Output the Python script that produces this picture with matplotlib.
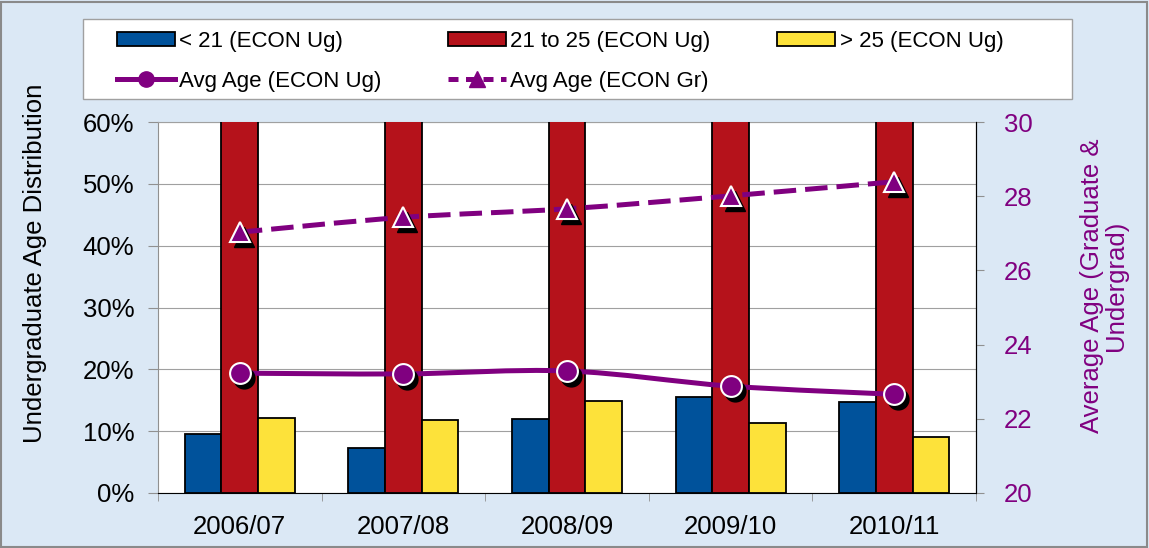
import matplotlib
matplotlib.use("Agg")
from matplotlib import pyplot as plt
from matplotlib.path import Path
from matplotlib.patches import PathPatch, Rectangle, Patch
from matplotlib.lines import Line2D
from matplotlib import transforms
import numpy as np

years = ["2006/07", "2007/08", "2008/09", "2009/10", "2010/11"]
under_21 = [9.5, 7.2, 12.0, 15.6, 14.7]
age_21_25 = [75.0, 77.0, 73.0, 73.0, 76.0]   # clipped above 60% in the chart
over_25 = [12.2, 11.8, 14.9, 11.3, 9.1]
avg_ug = [23.23, 23.21, 23.29, 22.88, 22.66]
avg_gr = [27.03, 27.43, 27.66, 28.01, 28.39]

purple = "#800080"
blue = "#00529B"
red = "#B5121B"
yellow = "#FDE23A"
bg = "#dbe8f5"

plt.rcParams["font.family"] = ["Liberation Sans", "DejaVu Sans"]


def smooth_path(xs, ys):
    # catmull-rom -> bezier, like Excel's smoothed line
    n = len(xs)
    verts = [(xs[0], ys[0])]
    codes = [Path.MOVETO]
    for i in range(n - 1):
        x0, y0 = xs[max(i - 1, 0)], ys[max(i - 1, 0)]
        x1, y1 = xs[i], ys[i]
        x2, y2 = xs[i + 1], ys[i + 1]
        x3, y3 = xs[min(i + 2, n - 1)], ys[min(i + 2, n - 1)]
        verts.append((x1 + (x2 - x0) / 6, y1 + (y2 - y0) / 6))
        verts.append((x2 - (x3 - x1) / 6, y2 - (y3 - y1) / 6))
        verts.append((x2, y2))
        codes += [Path.CURVE4] * 3
    return Path(verts, codes)


fig = plt.figure(figsize=(11.49, 5.48), dpi=100, facecolor=bg)
fig.patches.append(Rectangle((0.001, 0.002), 0.997, 0.994, transform=fig.transFigure,
                             fill=False, edgecolor="#8a8a8a", lw=1.5))
# legend box
fig.patches.append(Rectangle((83 / 1149, 1 - 99 / 548), (1072 - 83) / 1149, 80 / 548,
                             transform=fig.transFigure, facecolor="white",
                             edgecolor="#a0a0a0", lw=1.0))

ax = fig.add_axes([158 / 1149, 1 - 493 / 548, (976 - 158) / 1149, (493 - 122) / 548])
ax.set_facecolor("white")

x = np.arange(len(years))
w = 0.224
ax.bar(x - w, under_21, w, color=blue, edgecolor="black", lw=1.3, zorder=3)
ax.bar(x, age_21_25, w, color=red, edgecolor="black", lw=1.3, zorder=3)
ax.bar(x + w, over_25, w, color=yellow, edgecolor="black", lw=1.3, zorder=3)

ax.set_xlim(-0.5, len(years) - 0.5)
ax.set_ylim(0, 60)
ax.set_yticks(range(0, 61, 10))
ax.set_yticklabels([f"{v}%" for v in range(0, 61, 10)])
ax.yaxis.grid(True, color="#a0a0a0", lw=0.8, zorder=0)
ax.set_axisbelow(True)
ax.set_xticks(x)
ax.set_xticklabels(years)
ax.set_xticks(np.arange(-0.5, len(years), 1.0), minor=True)
ax.tick_params(axis="x", which="major", length=0, pad=16, labelsize=18.5)
ax.tick_params(axis="x", which="minor", length=6, color="#909090", direction="out")
ax.tick_params(axis="y", length=7, color="#909090", pad=10, labelsize=18.5)
ax.spines["left"].set_color("#909090")
ax.spines["top"].set_color("#a0a0a0")
ax.spines["bottom"].set_color("black")
ax.spines["right"].set_color("black")

ax2 = ax.twinx()
ax2.set_ylim(20, 30)
ax2.set_yticks(range(20, 31, 2))
ax2.tick_params(axis="y", length=6, colors=purple, pad=14, labelsize=18.5)
ax2.tick_params(axis="y", color="#909090")
ax2.spines["right"].set_color("black")
for s in ("left", "top", "bottom"):
    ax2.spines[s].set_visible(False)

ax2.add_patch(PathPatch(smooth_path(x, avg_ug), fill=False, edgecolor=purple, lw=3.6,
                        capstyle="butt", zorder=4))
ax2.add_patch(PathPatch(smooth_path(x, avg_gr), fill=False, edgecolor=purple, lw=3.6,
                        linestyle=(0, (4.5, 1.8)), capstyle="butt", zorder=4))

shadow = transforms.offset_copy(ax2.transData, fig=fig, x=4, y=-5, units="dots")
ax2.plot(x, avg_ug, "o", ms=15, color="black", mec="black", transform=shadow, zorder=5)
ax2.plot(x, avg_gr, "^", ms=15, color="black", mec="black", transform=shadow, zorder=5)
ax2.plot(x, avg_ug, "o", ms=15, color=purple, mec="white", mew=1.5, zorder=6)
ax2.plot(x, avg_gr, "^", ms=15, color=purple, mec="white", mew=1.5, zorder=6)

fig.text(35 / 1149, 1 - 263 / 548, "Undergraduate Age Distribution", rotation=90,
         ha="center", va="center", fontsize=18.5)
fig.text(1104 / 1149, 1 - 286 / 548, "Average Age (Graduate &\nUndergrad)", rotation=90,
         ha="center", va="center", fontsize=18.5, color=purple, linespacing=1.0)

handles = [
    Patch(facecolor=blue, edgecolor="black", lw=1.3),
    Line2D([], [], color=purple, lw=3.6, marker="o", ms=11, mfc=purple, mec=purple),
    Patch(facecolor=red, edgecolor="black", lw=1.3),
    Line2D([], [], color=purple, lw=3.6, ls=(0, (2, 1.5)), marker="^", ms=11, mfc=purple,
           mec=purple),
    Patch(facecolor=yellow, edgecolor="black", lw=1.3),
]
labels = ["< 21 (ECON Ug)", "Avg Age (ECON Ug)", "21 to 25 (ECON Ug)",
          "Avg Age (ECON Gr)", "> 25 (ECON Ug)"]
leg = fig.legend(handles, labels, ncol=3, loc="upper left",
                 bbox_to_anchor=(117 / 1149, 1 - 31 / 548),
                 fontsize=16, frameon=False, handlelength=2.6, handleheight=0.6,
                 handletextpad=0.2, labelspacing=0.85, borderaxespad=0,
                 borderpad=0, columnspacing=3.0)

fig.savefig("out.png", dpi=100, facecolor=bg)
